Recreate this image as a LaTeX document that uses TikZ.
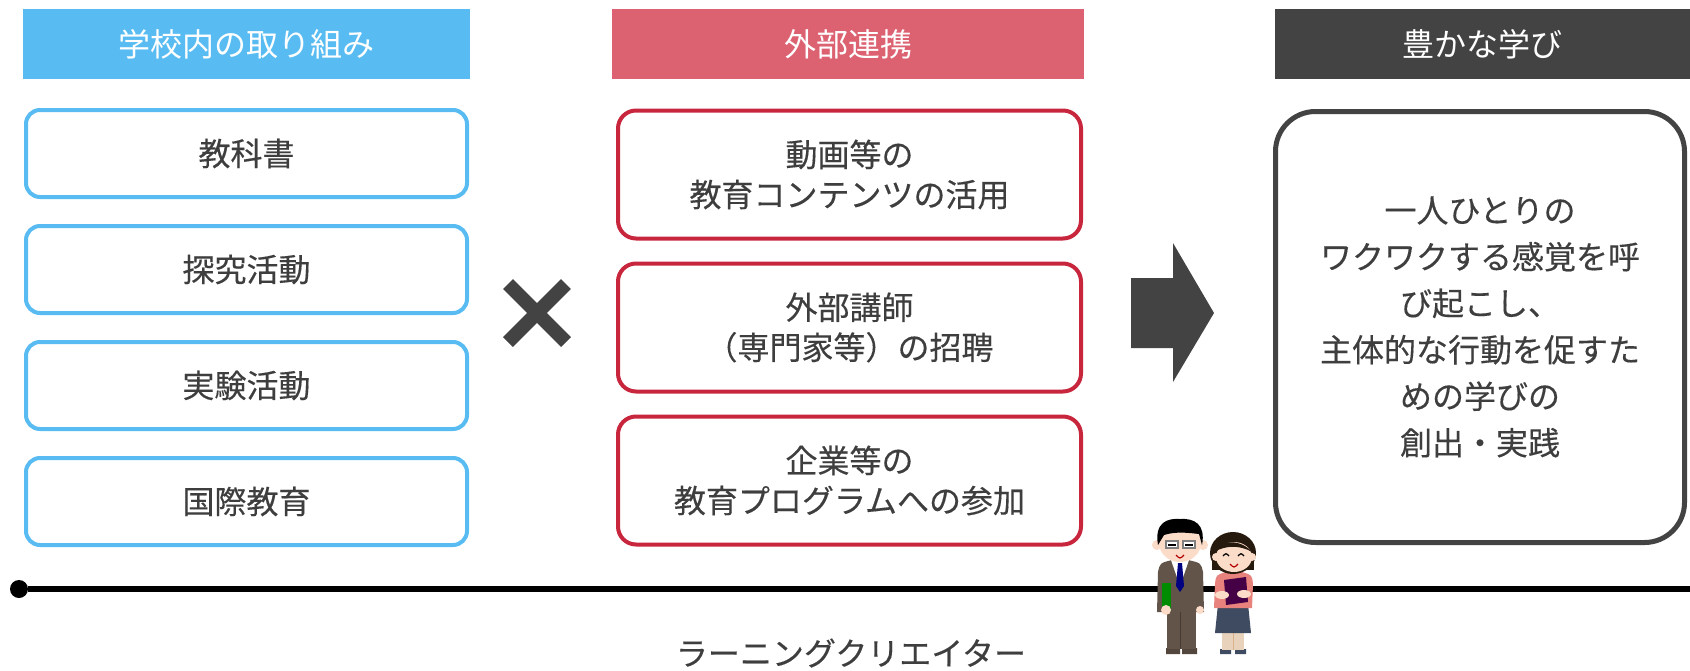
\documentclass[tikz,border=0pt]{standalone}
\usepackage{fontspec}
\newfontfamily\jpfont{Noto Sans CJK JP}
\newfontfamily\jpboxfont[FakeBold=0.3]{Noto Sans CJK JP}
\usetikzlibrary{positioning}

\definecolor{skyblue}{HTML}{58BCF2}
\definecolor{rosered}{HTML}{DC6272}
\definecolor{deepred}{HTML}{C8263D}
\definecolor{charcoal}{HTML}{434343}
\definecolor{inkgray}{HTML}{3E3E3E}
\definecolor{skin}{HTML}{FBDCC8}
\definecolor{suitbrown}{HTML}{625448}
\definecolor{blouse}{HTML}{E8827C}
\definecolor{skirtnavy}{HTML}{3F4B60}

\begin{document}
\begin{tikzpicture}[x=1pt, y=-1pt, node distance=25pt, font=\jpboxfont\fontsize{32}{40}\selectfont, text=inkgray,
  head node/.style={fill=#1, text=white, font=\jpfont\fontsize{32}{40}\selectfont, minimum height=70, inner sep=0},
  blue node/.style={draw=skyblue, line width=4, rounded corners=14, minimum width=441, minimum height=87, inner sep=0},
  red node/.style={draw=deepred, line width=4, rounded corners=18, minimum width=463, minimum height=128, inner sep=0, align=center},
  goal node/.style={draw=charcoal, line width=5, rounded corners=40, minimum width=409, minimum height=431, inner sep=0, align=center, font=\jpboxfont\fontsize{32}{46.5}\selectfont}]
\useasboundingbox (0,0) rectangle (1690,670);

% column heads
\node[head node=skyblue, minimum width=447] (school) at (246.5,44) {学校内の取り組み};
\node[head node=rosered, minimum width=472] (partner) at (848,44) {外部連携};
\node[head node=charcoal, minimum width=415] (learn) at (1482.5,44) {豊かな学び};

% in-school items
\node[blue node] (kyokasho) at (246.5,153.5) {教科書};
\foreach \s/\t/\txt in {tankyu/kyokasho/探究活動, jikken/tankyu/実験活動, kokusai/jikken/国際教育}{
    \node[blue node] (\s) [below=of \t] {\txt};}

% outside partners
\tikzset{node distance=21pt}
\node[red node] (douga) at (849.5,174.5) {動画等の\\教育コンテンツの活用};
\foreach \s/\t/\txt in {koshi/douga/{外部講師\\（専門家等）の招聘}, kigyo/koshi/{企業等の\\教育プログラムへの参加}}{
    \node[red node] (\s) [below=of \t] {\txt};}

% result
\node[goal node] (goal) at (1480,327) {一人ひとりの\\ワクワクする感覚を呼\\び起こし、\\主体的な行動を促すた\\めの学びの\\創出・実践};

% times and arrow
\draw[charcoal, line width=14] (508,284) -- (566,342) (566,284) -- (508,342);
\fill[charcoal] (1131,278) -- (1173,278) -- (1173,243) -- (1214,313) -- (1173,382) -- (1173,348) -- (1131,348) -- cycle;

% time line
\node[circle, fill=black, inner sep=0, minimum size=18] (start) at (19,589) {};
\coordinate (finish) at (1690,589);
\draw[line width=6] (start) -- (finish);
\node (creator) at (851,653) {ラーニングクリエイター};

% the man
\fill[suitbrown!85!black] (1166,648) rectangle (1180,654) (1182,648) rectangle (1197,654);
\fill[suitbrown] (1167,605) rectangle (1196,649);
\fill[suitbrown] (1157,612) -- (1158,572) .. controls (1160,563) .. (1172,560) -- (1188,560) .. controls (1201,563) .. (1203,572) -- (1204,612) -- cycle;
\draw[suitbrown!70!black, line width=1] (1180,612) -- (1180,649);
\fill[white] (1171,560) -- (1189,560) -- (1180,586) -- cycle;
\fill[blue!50!black] (1178,563) -- (1182,563) -- (1184,586) -- (1180,592) -- (1176,586) -- cycle;
\fill[green!55!black] (1162,583) rectangle (1171,611);
\fill[skin] (1166,610) circle (5) (1200,610) circle (4);
\fill[skin] (1157,545) circle (5) (1203,545) circle (5);
\fill[skin] (1180,543) ellipse (21 and 19);
\fill[black] (1158,545) .. controls (1154,522) and (1168,518) .. (1180,519) .. controls (1194,518) and (1206,524) .. (1202,545) -- (1199,534) .. controls (1190,533) and (1176,531) .. (1164,535) -- cycle;
\draw[gray, line width=1.2, fill=white] (1166,541) rectangle (1178,548) (1183,541) rectangle (1195,548);
\draw[black, line width=1.2] (1168,545) -- (1176,545) (1185,545) -- (1193,545);
\draw[red!70!black, line width=1.2] (1176,555) .. controls (1180,559) .. (1184,555);

% the woman
\fill[skirtnavy] (1220,649) rectangle (1231,654) (1235,649) rectangle (1246,654);
\fill[brown!35!white] (1222,630) rectangle (1244,650);
\draw[brown!60!white, line width=1] (1233,632) -- (1233,650);
\fill[skirtnavy] (1218,604) -- (1248,604) -- (1251,633) -- (1215,633) -- cycle;
\fill[blouse] (1214,608) -- (1215,584) .. controls (1216,575) .. (1226,572) -- (1242,572) .. controls (1252,575) .. (1253,584) -- (1252,608) -- cycle;
\fill[violet!55!black] (1224,580) -- (1246,577) -- (1248,602) -- (1226,605) -- cycle;
\fill[skin] (1222,595) ellipse (7 and 4) (1244,594) ellipse (7 and 4);
\fill[black!80!brown] (1233,553) ellipse (23 and 21);
\fill[black!80!brown] (1212,555) rectangle (1254,570);
\fill[skin] (1234,557) ellipse (18 and 15);
\fill[skin] (1216,557) circle (4) (1252,557) circle (4);
\fill[black!80!brown] (1214,552) .. controls (1218,540) and (1240,538) .. (1252,552) .. controls (1240,545) and (1226,545) .. cycle;
\draw[black, line width=1.2] (1223,556) .. controls (1226,553) .. (1229,556) (1238,556) .. controls (1241,553) .. (1244,556);
\draw[red!70!black, line width=1.2] (1230,564) .. controls (1234,568) .. (1238,564);
\end{tikzpicture}
\end{document}
